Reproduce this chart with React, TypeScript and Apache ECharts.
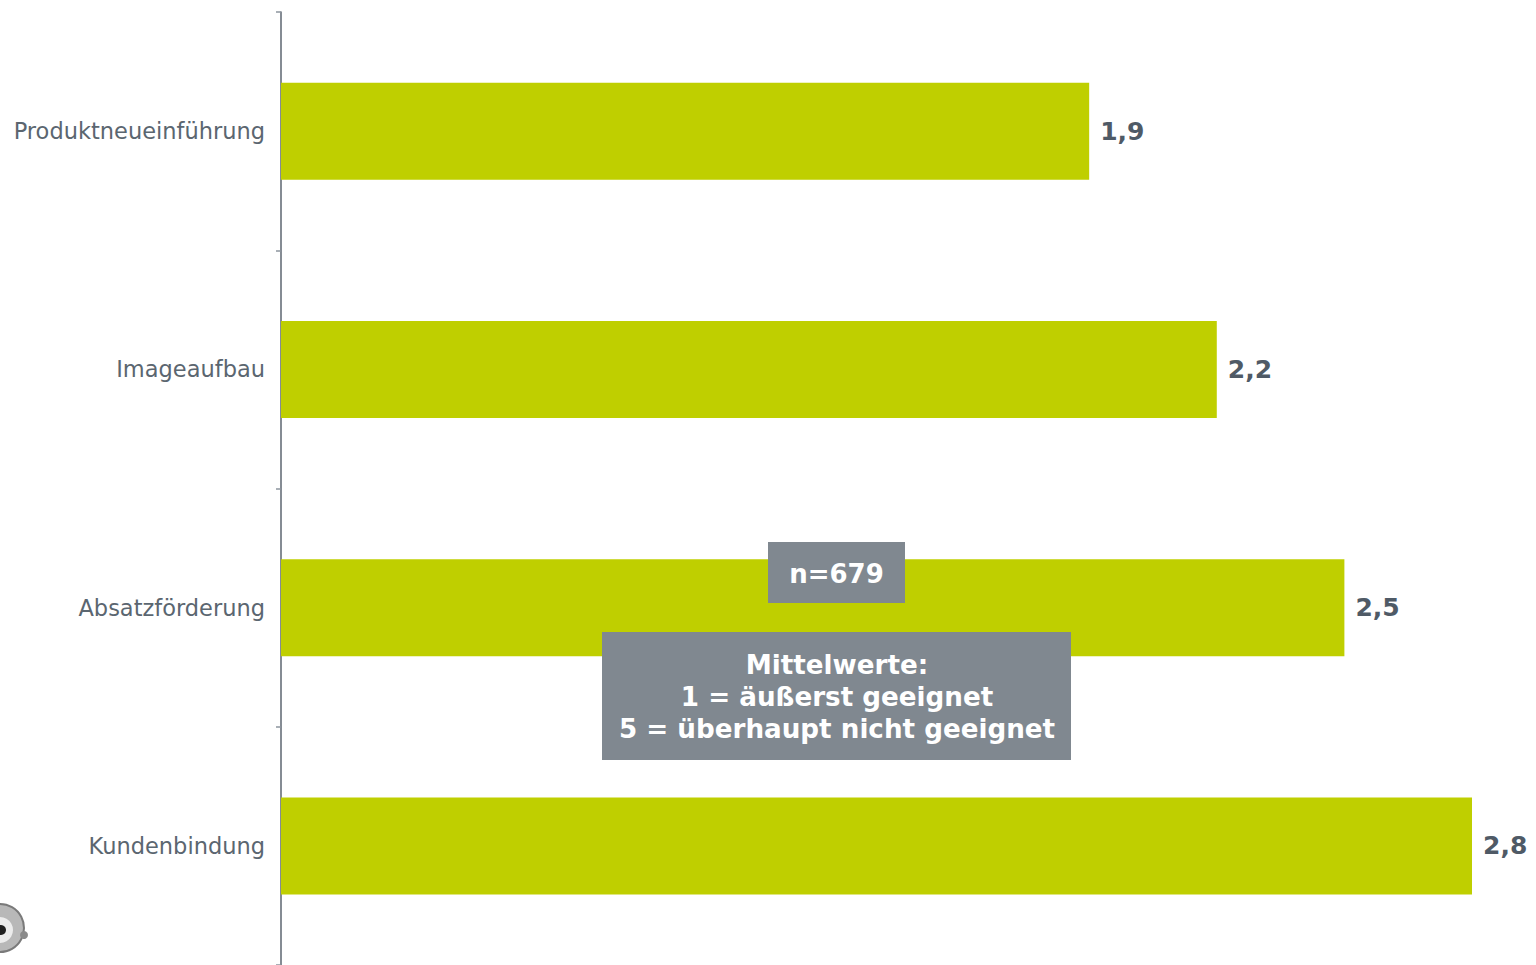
import React, { useEffect, useRef } from "react";
import * as echarts from "echarts";

const categories = ["Produktneueinführung", "Imageaufbau", "Absatzförderung", "Kundenbindung"];
const values = [1.9, 2.2, 2.5, 2.8];
const sampleNote = "n=679";
const scaleNote = ["Mittelwerte:", "1 = äußerst geeignet", "5 = überhaupt nicht geeignet"];

const fmt = (v: number) => v.toFixed(1).replace(".", ",");

export default function App() {
  const ref = useRef<HTMLDivElement>(null);
  useEffect(() => {
    document.body.style.margin = "0";
    const chart = echarts.init(ref.current!, null, { renderer: "svg" });
    chart.setOption({
      animation: false,
      backgroundColor: "#ffffff",
      textStyle: { fontFamily: "DejaVu Sans" },
      grid: { left: 281, right: 64, top: 12, bottom: -3, containLabel: false },
      xAxis: {
        type: "value",
        min: 0,
        max: 2.8,
        show: false,
      },
      yAxis: {
        type: "category",
        data: categories,
        inverse: true,
        axisLine: { show: true, lineStyle: { color: "#5c6670", width: 1.5 } },
        axisTick: { show: true, length: 5, lineStyle: { color: "#8c959e", width: 1.5 } },
        axisLabel: { color: "#5b6670", fontSize: 22.5, fontFamily: "DejaVu Sans", margin: 16 },
        splitLine: { show: false },
      },
      series: [
        {
          type: "bar",
          data: values,
          barWidth: 97,
          itemStyle: { color: "#bfcf00" },
          label: {
            show: true,
            position: "right",
            distance: 11,
            formatter: (p: any) => fmt(p.value),
            color: "#4f5a66",
            fontSize: 25,
            fontWeight: "bold",
            fontFamily: "DejaVu Sans",
          },
        },
      ],
      graphic: [
        { type: "rect", shape: { x: 768, y: 542, width: 137, height: 61 }, style: { fill: "#808890" }, z: 10 },
        {
          type: "text",
          x: 836.5,
          y: 574,
          style: {
            text: sampleNote,
            fill: "#ffffff",
            font: "bold 26px 'DejaVu Sans'",
            align: "center",
            verticalAlign: "middle",
          },
          z: 11,
        },
        { type: "rect", shape: { x: 602, y: 632, width: 469, height: 128 }, style: { fill: "#808890" }, z: 10 },
        {
          type: "text",
          x: 837,
          y: 697,
          style: {
            text: scaleNote.join("\n"),
            fill: "#ffffff",
            font: "bold 26.2px 'DejaVu Sans'",
            lineHeight: 32,
            align: "center",
            verticalAlign: "middle",
          },
          z: 11,
        },
        { type: "circle", shape: { cx: 0, cy: 928, r: 24 }, style: { fill: "#b8b8b8", stroke: "#7a7a7a", lineWidth: 2 }, z: 10 },
        { type: "circle", shape: { cx: 0, cy: 930, r: 13 }, style: { fill: "#ececec" }, z: 11 },
        { type: "circle", shape: { cx: 1, cy: 930, r: 5 }, style: { fill: "#222222" }, z: 12 },
        { type: "circle", shape: { cx: 24, cy: 935, r: 4 }, style: { fill: "#8a8a8a" }, z: 11 },
      ],
    });
    return () => chart.dispose();
  }, []);
  return <div ref={ref} style={{ position: "fixed", left: 0, top: 0, width: 1536, height: 965 }} />;
}
